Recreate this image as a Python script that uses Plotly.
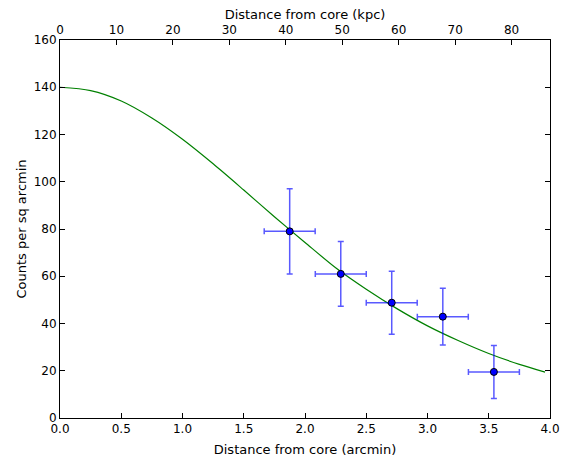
import plotly.graph_objects as go

# Data points (arcmin, counts per sq arcmin)
r_pts = [1.875, 2.292, 2.708, 3.125, 3.542]
r_err = [0.208, 0.208, 0.208, 0.208, 0.208]
c_pts = [79.0, 61.0, 48.8, 42.9, 19.5]
c_err = [18.0, 13.7, 13.3, 12.0, 11.2]

# Model curve
r_model = [0.0, 0.25, 0.5, 0.75, 1.0, 1.25, 1.5, 1.75, 2.0, 2.25, 2.5, 2.75, 3.0, 3.25, 3.5, 3.75, 3.96]
c_model = [140.0, 138.6, 134.2, 127.0, 118.0, 107.6, 96.5, 85.2, 74.3, 63.6, 54.5, 46.3, 39.0, 32.8, 27.3, 22.7, 19.4]

x_ticks = [0.0, 0.5, 1.0, 1.5, 2.0, 2.5, 3.0, 3.5, 4.0]
y_ticks = [0, 20, 40, 60, 80, 100, 120, 140, 160]
kpc_ticks = [0, 10, 20, 30, 40, 50, 60, 70, 80]
kpc_max = 86.8

font = dict(family="DejaVu Sans", size=12, color="black")
title_font = dict(family="DejaVu Sans", size=13, color="black")

fig = go.Figure()
fig.add_trace(go.Scatter(x=r_model, y=c_model, mode="lines",
                         line=dict(color="#008000", width=1.2, shape="spline", smoothing=0.8),
                         showlegend=False, hoverinfo="skip"))
fig.add_trace(go.Scatter(
    x=r_pts, y=c_pts, mode="markers",
    marker=dict(color="#0000ff", size=7, line=dict(color="black", width=1)),
    error_x=dict(type="data", array=r_err, color="rgba(0,0,255,0.65)", thickness=1.5, width=3),
    error_y=dict(type="data", array=c_err, color="rgba(0,0,255,0.65)", thickness=1.5, width=3),
    showlegend=False))
fig.add_trace(go.Scatter(x=[None], y=[None], xaxis="x2", showlegend=False))

axis_common = dict(showline=True, linecolor="black", linewidth=1, ticks="inside", ticklen=5,
                   tickcolor="black", showgrid=False, zeroline=False, tickfont=font, automargin=False)

fig.update_layout(
    width=574, height=461,
    margin=dict(l=60, r=24, t=40, b=43),
    paper_bgcolor="white", plot_bgcolor="white",
    font=font,
    xaxis=dict(range=[0, 4.0], tickvals=x_ticks, ticktext=[f"{v:.1f}" for v in x_ticks],
               title=dict(text="Distance from core (arcmin)", font=title_font, standoff=9), **axis_common),
    xaxis2=dict(range=[0, kpc_max], tickvals=kpc_ticks, overlaying="x", side="top",
                title=dict(text="Distance from core (kpc)", font=title_font, standoff=0), **axis_common),
    yaxis=dict(range=[0, 160], tickvals=y_ticks, mirror="ticks",
               title=dict(text="Counts per sq arcmin", font=title_font, standoff=4), **axis_common),
)

fig.write_html("out.html")
